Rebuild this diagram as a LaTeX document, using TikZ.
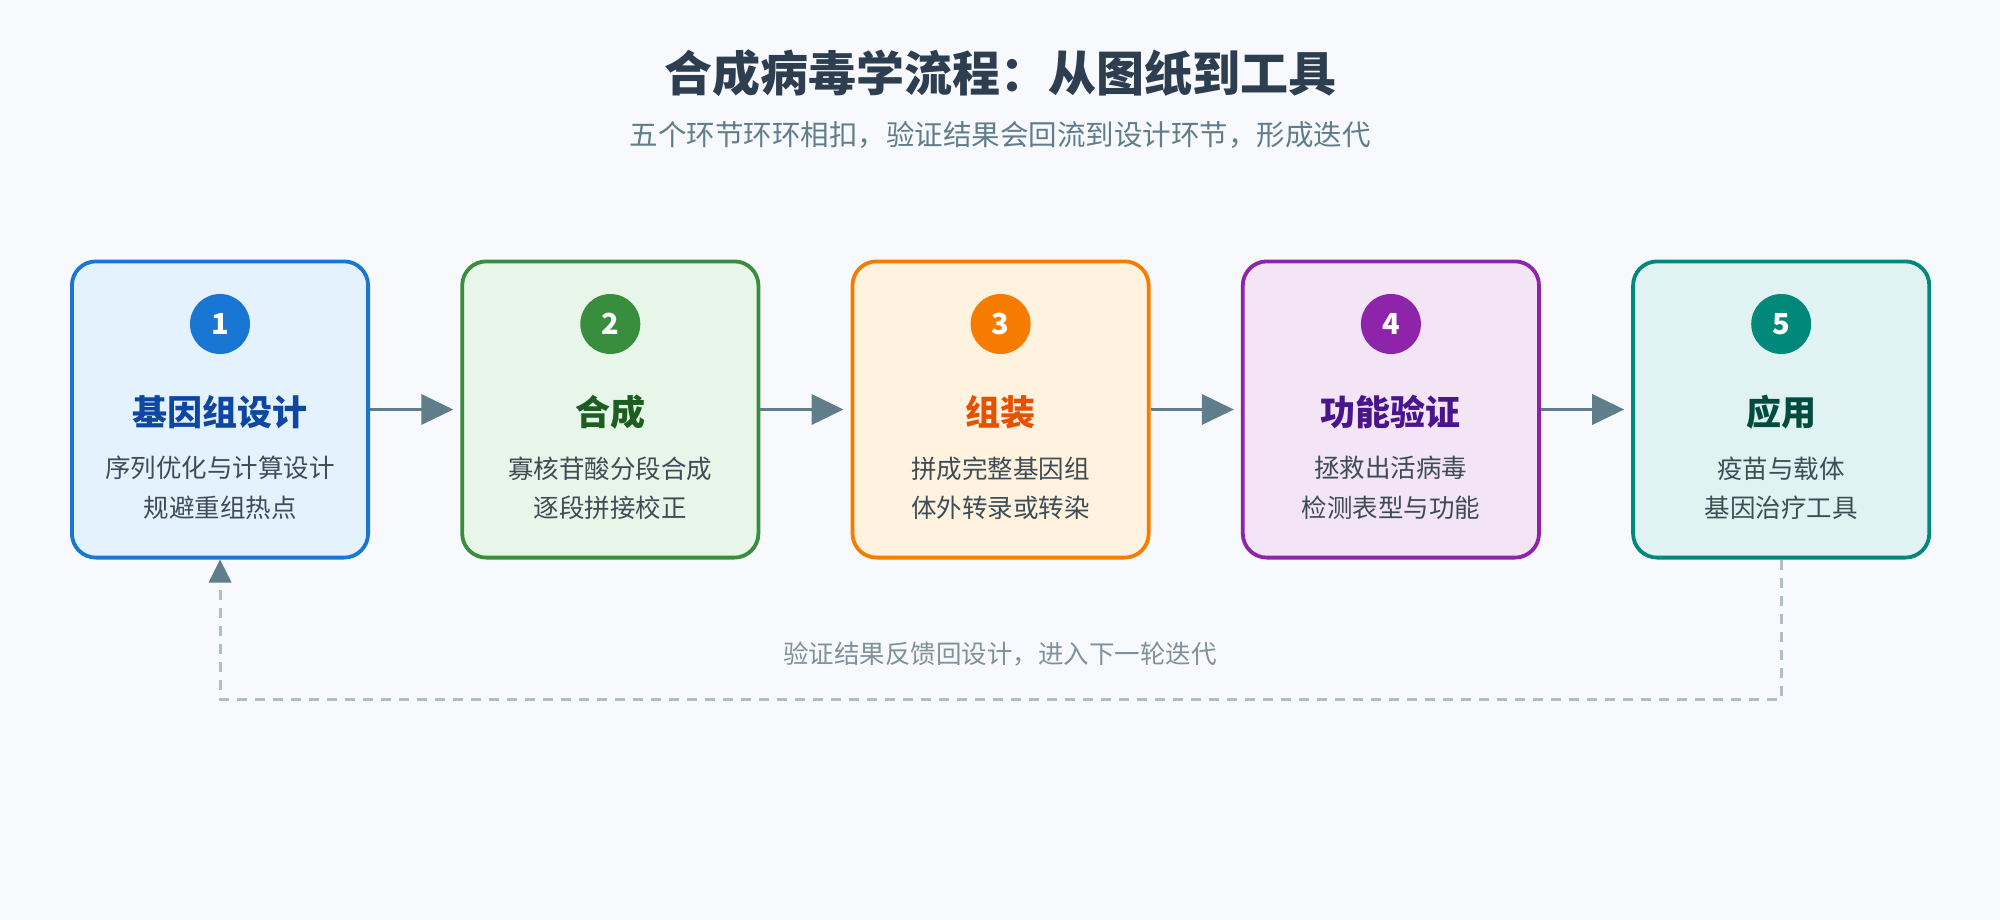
\documentclass[tikz,border=0pt]{standalone}
\usepackage{fontspec}
\setmainfont{Noto Sans CJK SC}
\usetikzlibrary{arrows.meta}
\definecolor{bgc}{HTML}{F8F9FC}
\definecolor{titlec}{HTML}{2C3E50}
\definecolor{subc}{HTML}{607D8B}
\definecolor{descc}{HTML}{3E4C55}
\definecolor{arrc}{HTML}{607D8B}
\definecolor{dashc}{HTML}{B0BEC5}
\definecolor{fbtext}{HTML}{7F929C}
\definecolor{bdA}{HTML}{1976D2}\definecolor{fiA}{HTML}{E3F2FD}\definecolor{ttA}{HTML}{0D47A1}
\definecolor{bdB}{HTML}{388E3C}\definecolor{fiB}{HTML}{E8F5E9}\definecolor{ttB}{HTML}{1B5E20}
\definecolor{bdC}{HTML}{F57C00}\definecolor{fiC}{HTML}{FFF3E0}\definecolor{ttC}{HTML}{E65100}
\definecolor{bdD}{HTML}{8E24AA}\definecolor{fiD}{HTML}{F3E5F5}\definecolor{ttD}{HTML}{4A148C}
\definecolor{bdE}{HTML}{00897B}\definecolor{fiE}{HTML}{E0F2F1}\definecolor{ttE}{HTML}{004D40}
\tikzset{
  stagebox/.style={draw=#1, line width=3.8pt, rounded corners=24pt, minimum width=296.2pt, minimum height=296.2pt, inner sep=0pt},
  numdot/.style={circle, fill=#1, minimum size=60pt, inner sep=0pt, text=white, font=\fontsize{29}{32}\selectfont\bfseries},
  stagetitle/.style={text=#1, font=\fontsize{35}{40}\selectfont\bfseries, inner sep=0pt},
  stagedesc/.style={text=descc, font=\fontsize{25.5}{39.5}\selectfont, align=center, inner sep=0pt},
  flowarrow/.style={draw=arrc, line width=3.5pt, -{Triangle[length=32pt,width=30pt]}, shorten >=7pt},
  fbline/.style={draw=dashc, line width=3pt, dash pattern=on 10pt off 8pt},
}
\begin{document}
\begin{tikzpicture}[x=1pt,y=-1pt]
\fill[bgc] (0,0) rectangle (2000,920);
\useasboundingbox (0,0) rectangle (2000,920);
\node[text=titlec, font=\fontsize{48}{56}\selectfont\bfseries] (title) at (1000,73) {合成病毒学流程：从图纸到工具};
\node[text=subc, font=\fontsize{28.5}{34}\selectfont] (subtitle) at (1000,135) {五个环节环环相扣，验证结果会回流到设计环节，形成迭代};
\foreach \ii/\bdc/\fic/\ttc/\num/\ttl/\da/\db in {
  0/bdA/fiA/ttA/1/基因组设计/序列优化与计算设计/规避重组热点,
  1/bdB/fiB/ttB/2/合成/寡核苷酸分段合成/逐段拼接校正,
  2/bdC/fiC/ttC/3/组装/拼成完整基因组/体外转录或转染,
  3/bdD/fiD/ttD/4/功能验证/拯救出活病毒/检测表型与功能,
  4/bdE/fiE/ttE/5/应用/疫苗与载体/基因治疗工具}{
  \pgfmathsetmacro{\cx}{220+390.3*\ii}
  \node[stagebox=\bdc, fill=\fic] (b\num) at (\cx,409.5) {};
  \node[numdot=\bdc] (n\num) at (\cx,324) {\num};
  \node[stagetitle=\ttc] (t\num) at (\cx,412) {\ttl};
  \node[stagedesc] (d\num) at (\cx,488) {\da\\\db};
}
\foreach \a/\b in {1/2,2/3,3/4,4/5}{
  \draw[flowarrow] (b\a.east) -- (b\b.west);
}
\coordinate (fbR) at (b5.south |- 0,699);
\coordinate (fbL) at (b1.south |- 0,699);
\draw[fbline] (b5.south) -- (fbR) -- (fbL) -- ([yshift=-23pt]b1.south);
\draw[draw=none, fill=arrc] (b1.south) -- ++(-11.5,23) -- ++(23,0) -- cycle;
\node[text=fbtext, font=\fontsize{25.5}{30}\selectfont] (fbtxt) at (1000,654) {验证结果反馈回设计，进入下一轮迭代};
\end{tikzpicture}
\end{document}
